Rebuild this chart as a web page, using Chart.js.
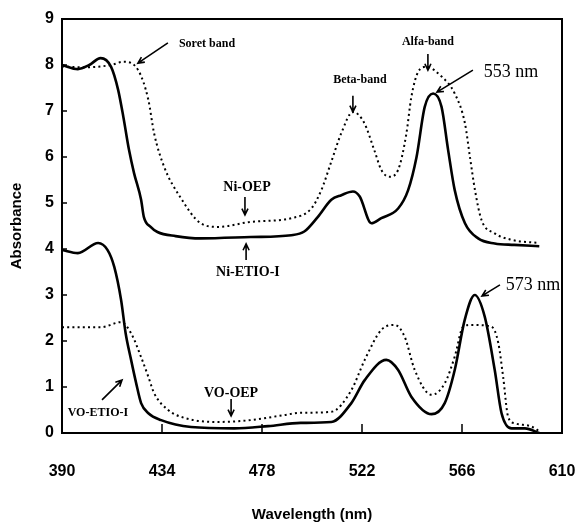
<!DOCTYPE html>
<html><head><meta charset="utf-8">
<script src="https://cdn.jsdelivr.net/npm/chart.js@4.4.1/dist/chart.umd.min.js"></script>
<style>html,body{margin:0;padding:0;background:#fff}</style>
</head><body>
<canvas id="c" width="576" height="532"></canvas>
<script>
// ---- data ----
const xTickValues = [390, 434, 478, 522, 566, 610];
const yTickValues = [0, 1, 2, 3, 4, 5, 6, 7, 8, 9];

const niEtioX = [390, 397, 402, 407, 411.6, 414.7, 417, 419.5, 421.7, 424.8, 426, 429, 432, 440, 451, 473, 490.9, 496.6, 502.6, 508.5, 512.9, 518, 521, 526.1, 530.5, 537.9, 542.3, 546, 549.6, 553.3, 557, 559.9, 562.8, 567.3, 573.1, 580.4, 589, 600];
const niEtioY = [8.0, 7.91, 8.0, 8.15, 7.96, 7.46, 6.87, 6.15, 5.65, 5.07, 4.7, 4.48, 4.37, 4.28, 4.23, 4.26, 4.3, 4.38, 4.7, 5.07, 5.17, 5.25, 5.14, 4.56, 4.67, 4.88, 5.28, 6.0, 7.09, 7.38, 7.09, 6.15, 5.28, 4.56, 4.23, 4.12, 4.09, 4.06];

const niOepX = [390, 400, 411.6, 417, 423.5, 428, 430.5, 435, 442, 451, 458.7, 473, 490.9, 499.7, 504.1, 508.5, 512.9, 518, 523, 527.4, 530.5, 534, 537.9, 541.5, 543.7, 546.7, 550.3, 557, 562.8, 567.3, 569.5, 571.7, 574.6, 580.4, 587.8, 600];
const niOepY = [7.97, 7.95, 8.0, 8.07, 7.89, 7.24, 6.52, 5.78, 5.13, 4.56, 4.48, 4.59, 4.67, 4.88, 5.28, 5.9, 6.52, 6.98, 6.74, 6.15, 5.72, 5.57, 5.72, 6.5, 7.3, 7.85, 7.96, 7.75, 7.38, 6.73, 6.0, 5.28, 4.63, 4.34, 4.2, 4.13];

const voEtioX = [390, 397, 405.9, 410, 413, 416, 418, 420.4, 422.6, 424.8, 428, 433.6, 446.8, 465.8, 480.7, 495, 508.5, 517.3, 523.2, 532.7, 537.9, 543.7, 552.6, 558.4, 562.8, 567.2, 571.6, 576, 580.4, 583.4, 587.8, 593.7, 600];
const voEtioY = [3.98, 3.91, 4.13, 3.98, 3.61, 2.89, 2.17, 1.59, 1.09, 0.65, 0.43, 0.28, 0.13, 0.1, 0.15, 0.22, 0.24, 0.65, 1.15, 1.59, 1.37, 0.79, 0.41, 0.65, 1.37, 2.46, 3.0, 2.53, 1.37, 0.43, 0.1, 0.1, 0.0];

const voOepX = [390, 407, 416, 420.4, 424.8, 428, 430.5, 436.7, 443.7, 458.7, 473, 487.8, 495, 508.5, 517.3, 523.2, 530.5, 536.4, 540.8, 545.2, 552.6, 558.4, 562.8, 566.5, 570.2, 579, 582, 584.1, 586.3, 589.3, 596.6, 600.3];
const voOepY = [2.3, 2.3, 2.41, 2.17, 1.65, 1.22, 0.87, 0.5, 0.33, 0.24, 0.28, 0.39, 0.44, 0.46, 0.93, 1.59, 2.24, 2.35, 2.09, 1.37, 0.83, 1.08, 1.66, 2.31, 2.35, 2.31, 1.95, 1.22, 0.35, 0.21, 0.14, 0.03];

// annotation labels (text placed in data coordinates; arrows from -> to)
const annotationTexts = ['Soret band', 'Beta-band', 'Alfa-band', '553 nm', 'Ni-OEP', 'Ni-ETIO-I', '573 nm', 'VO-ETIO-I', 'VO-OEP'];
const annotationAt = [[453.8, 8.46], [521.1, 7.67], [551, 8.5], [587.6, 7.85], [471.4, 5.35], [471.8, 3.5], [597.2, 3.22], [405.8, 0.43], [464.4, 0.87]];
const arrowFromTo = [[436.6, 8.48, 423.4, 8.04], [518, 7.33, 518, 6.98], [551, 8.24, 551, 7.89], [570.8, 7.89, 555, 7.41], [470.5, 5.13, 470.5, 4.74], [471, 3.76, 471, 4.11], [582.7, 3.22, 574.8, 2.98], [407.6, 0.72, 416.4, 1.15], [464.4, 0.74, 464.4, 0.37]];
const annotationFonts = ['bold 12px "Liberation Serif"', 'bold 12px "Liberation Serif"', 'bold 12px "Liberation Serif"', '18px "Liberation Serif"', 'bold 14px "Liberation Serif"', 'bold 14px "Liberation Serif"', '18px "Liberation Serif"', 'bold 12px "Liberation Serif"', 'bold 14px "Liberation Serif"'];

function pts(xs, ys) { return xs.map((x, i) => ({ x: x, y: ys[i] })); }

const framePlugin = {
  id: 'frame',
  afterDatasetsDraw(chart) {
    const ctx = chart.ctx, a = chart.chartArea;
    const xs = chart.scales.x, ys = chart.scales.y;
    ctx.save();
    ctx.strokeStyle = '#000';
    ctx.lineWidth = 2;
    ctx.strokeRect(a.left, a.top, a.right - a.left, a.bottom - a.top);
    ctx.lineWidth = 1.5;
    ctx.beginPath();
    xTickValues.slice(1, -1).forEach(v => {
      const px = xs.getPixelForValue(v);
      ctx.moveTo(px, a.bottom); ctx.lineTo(px, a.bottom - 9);
    });
    yTickValues.slice(1, -1).forEach(v => {
      const py = ys.getPixelForValue(v);
      ctx.moveTo(a.left, py); ctx.lineTo(a.left + 5, py);
    });
    ctx.stroke();

    // annotations
    ctx.fillStyle = '#000';
    ctx.textAlign = 'center';
    ctx.textBaseline = 'middle';
    annotationTexts.forEach((t, i) => {
      ctx.font = annotationFonts[i];
      ctx.fillText(t, xs.getPixelForValue(annotationAt[i][0]), ys.getPixelForValue(annotationAt[i][1]));
      const [x1, y1, x2, y2] = arrowFromTo[i];
      const p1x = xs.getPixelForValue(x1), p1y = ys.getPixelForValue(y1);
      const p2x = xs.getPixelForValue(x2), p2y = ys.getPixelForValue(y2);
      const ang = Math.atan2(p2y - p1y, p2x - p1x);
      ctx.lineWidth = 1.6;
      ctx.beginPath();
      ctx.moveTo(p1x, p1y); ctx.lineTo(p2x, p2y);
      ctx.moveTo(p2x - 7 * Math.cos(ang - 0.45), p2y - 7 * Math.sin(ang - 0.45));
      ctx.lineTo(p2x, p2y);
      ctx.lineTo(p2x - 7 * Math.cos(ang + 0.45), p2y - 7 * Math.sin(ang + 0.45));
      ctx.stroke();
    });
    ctx.restore();
  }
};

const solid = { borderColor: '#000', borderWidth: 2.6, pointRadius: 0, fill: false, cubicInterpolationMode: 'monotone' };
const dotted = { borderColor: '#000', borderWidth: 2, borderDash: [2, 3.2], pointRadius: 0, fill: false, cubicInterpolationMode: 'monotone' };

new Chart(document.getElementById('c'), {
  type: 'line',
  data: {
    datasets: [
      Object.assign({ label: 'Ni-ETIO-I', data: pts(niEtioX, niEtioY) }, solid),
      Object.assign({ label: 'Ni-OEP', data: pts(niOepX, niOepY) }, dotted),
      Object.assign({ label: 'VO-ETIO-I', data: pts(voEtioX, voEtioY) }, solid),
      Object.assign({ label: 'VO-OEP', data: pts(voOepX, voOepY) }, dotted)
    ]
  },
  options: {
    responsive: false,
    animation: false,
    devicePixelRatio: 1,
    layout: { padding: { left: 0, right: 14, top: 19, bottom: 0 } },
    plugins: { legend: { display: false }, tooltip: { enabled: false } },
    scales: {
      x: {
        type: 'linear', min: 390, max: 610,
        afterBuildTicks: s => { s.ticks = xTickValues.map(v => ({ value: v })); },
        afterFit: s => { s.height = 99; s.paddingLeft = 0; s.paddingRight = 0; },
        grid: { display: false, drawTicks: false },
        border: { display: false },
        ticks: { color: '#000', padding: 29, maxRotation: 0, font: { family: '"Liberation Sans", Arial', size: 16, weight: 'bold' } },
        title: { display: true, text: 'Wavelength (nm)', color: '#000', padding: { top: 8, bottom: 8 }, font: { family: '"Liberation Sans", Arial', size: 15, weight: 'bold' } }
      },
      y: {
        type: 'linear', min: 0, max: 9,
        afterBuildTicks: s => { s.ticks = yTickValues.map(v => ({ value: v })); },
        afterFit: s => { s.width = 62; s.paddingTop = 0; s.paddingBottom = 0; },
        grid: { display: false, drawTicks: false },
        border: { display: false },
        ticks: { color: '#000', padding: 8, font: { family: '"Liberation Sans", Arial', size: 16, weight: 'bold' } },
        title: { display: true, text: 'Absorbance', color: '#000', padding: { top: 8, bottom: 8 }, font: { family: '"Liberation Sans", Arial', size: 15, weight: 'bold' } }
      }
    }
  },
  plugins: [framePlugin]
});
</script>
</body></html>
